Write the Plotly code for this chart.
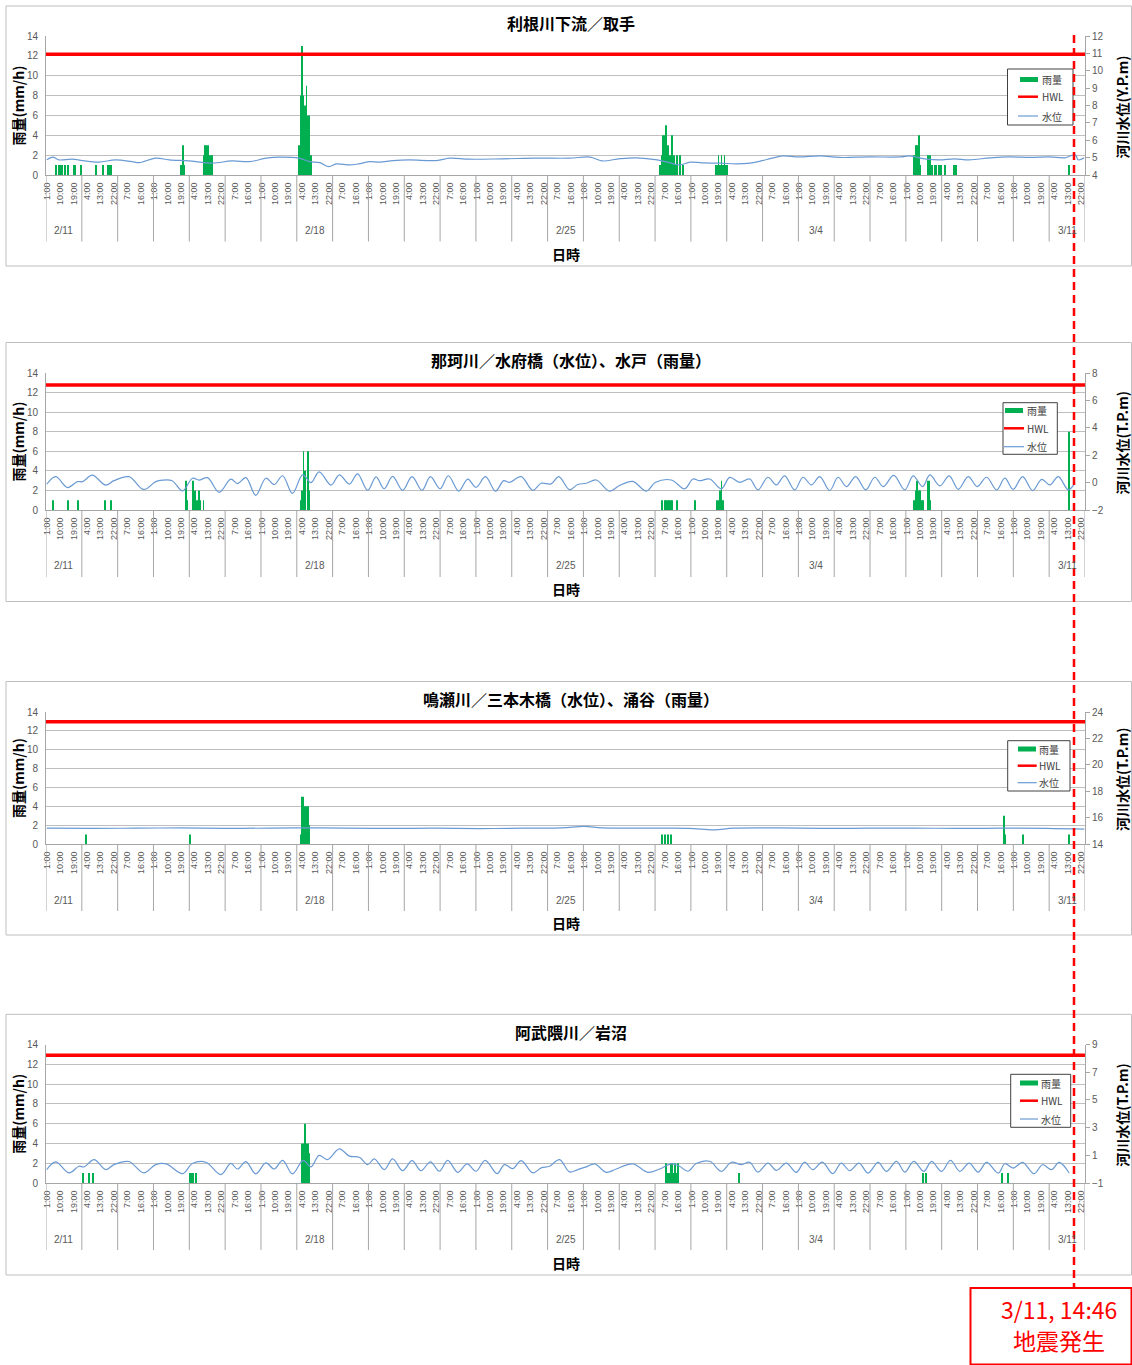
import plotly.graph_objects as go

W, H = 1132, 1365
def fx(p): return p / W
def fy(p): return 1 - p / H

X0, X1 = 46, 1085
FONT = "Noto Sans CJK JP"
TICKFONT = "Liberation Sans"

# ---------------- categories / tick labels ----------------
hour_tick_labels = ["1:00", "10:00", "19:00", "4:00", "13:00", "22:00", "7:00", "16:00"]
date_labels = ["2/11", "2/18", "2/25", "3/4", "3/11"]
date_day_index = [0, 7, 14, 21, 28]
n_days = 29
n_hours = 696          # hourly categories, 2/11 1:00 .. 3/12 0:00
tick_step = 9

# ---------------- panel texts ----------------
titles = ["利根川下流／取手",
          "那珂川／水府橋（水位）、水戸（雨量）",
          "鳴瀬川／三本木橋（水位）、涌谷（雨量）",
          "阿武隈川／岩沼"]
right_titles = ["河川水位(Y.P.m)", "河川水位(T.P.m)", "河川水位(T.P.m)", "河川水位(T.P.m)"]
right_ranges = [[4, 12], [-2, 8], [14, 24], [-1, 9]]
right_dticks = [1, 2, 2, 2]
hwl_values = [10.95, 7.13, 23.27, 8.23]

# ---------------- rainfall (hour index, mm/h) ----------------
rain1_t = [6, 8, 9, 10, 12, 14, 18, 19, 23, 33, 38, 41, 42, 43, 90, 91, 92, 105, 106, 107, 108, 109, 110, 111,
           169, 170, 171, 172, 173, 174, 175, 176, 177, 411, 412, 413, 414, 415, 416, 417, 418, 419, 420, 421, 422,
           424, 426, 448, 449, 450, 451, 452, 453, 454, 455, 456, 581, 582, 583, 584, 585, 590, 591, 592, 593, 595,
           596, 598, 599, 602, 608, 609, 685]
rain1_v = [1, 1, 1, 1, 1, 1, 1, 1, 1, 1, 1, 1, 1, 1, 1, 3, 1, 2, 3, 3, 3, 2, 2, 2,
           3, 8, 13, 8, 7, 9, 6, 6, 2, 1, 2, 4, 4, 5, 3, 2, 2, 4, 2, 1, 2,
           2, 1, 1, 1, 2, 1, 2, 1, 2, 1, 1, 2, 3, 3, 4, 1, 2, 2, 2, 1, 1,
           1, 1, 1, 1, 1, 1, 1]
rain2_t = [4, 14, 21, 39, 43, 93, 94, 98, 99, 100, 101, 102, 103, 105, 170, 171, 172, 173, 175, 176,
           412, 414, 415, 416, 417, 418, 419, 422, 434, 449, 450, 451, 452, 453,
           581, 582, 583, 584, 585, 586, 587, 590, 591, 592, 685]
rain2_v = [1, 1, 1, 1, 1, 3, 1, 3, 2, 1, 1, 2, 1, 1, 1, 2, 6, 4, 6, 2,
           1, 1, 1, 1, 1, 1, 1, 1, 1, 1, 1, 2, 3, 1,
           1, 2, 3, 2, 2, 1, 1, 3, 3, 1, 8]
rain3_t = [26, 96, 170, 171, 172, 173, 174, 175, 176, 412, 414, 416, 418, 641, 642, 654, 685]
rain3_v = [1, 1, 1, 5, 5, 4, 4, 4, 2, 1, 1, 1, 1, 3, 1, 1, 1]
rain4_t = [24, 28, 31, 96, 97, 98, 100, 171, 172, 173, 174, 175, 176,
           415, 416, 417, 418, 419, 420, 421, 422, 423, 464, 587, 589, 640, 644]
rain4_v = [1, 1, 1, 1, 1, 1, 1, 4, 4, 6, 4, 4, 3,
           2, 1, 1, 2, 2, 1, 2, 1, 2, 1, 1, 1, 1, 1]

# ---------------- water level (hour index, m) ----------------
level1_t = [0, 4, 8, 17, 24, 35, 46, 57, 62, 73, 82, 95, 111, 124, 136, 147, 156, 169, 176, 183, 189, 194, 203,
            209, 216, 223, 232, 243, 261, 270, 283, 305, 328, 350, 364, 372, 384, 395, 409, 417, 424, 431, 439,
            451, 462, 471, 478, 486, 493, 504, 518, 531, 551, 572, 578, 588, 598, 608, 618, 632, 645, 659, 672,
            682, 689, 691, 695]
level1_v = [4.87, 5.03, 4.87, 4.91, 4.83, 4.74, 4.87, 4.77, 4.71, 4.97, 4.87, 4.81, 4.68, 4.81, 4.77, 4.97, 5.03,
            4.97, 4.77, 4.71, 4.48, 4.64, 4.58, 4.64, 4.77, 4.74, 4.83, 4.87, 4.83, 4.97, 4.91, 4.93, 4.97, 4.97,
            5.03, 4.81, 4.94, 4.99, 4.87, 4.71, 4.58, 4.74, 4.70, 4.68, 4.64, 4.68, 4.8, 4.97, 5.1, 5.04, 5.1,
            5.01, 5.04, 5.04, 5.1, 4.93, 4.87, 4.93, 4.87, 4.99, 5.04, 5.01, 5.04, 4.99, 5.16, 4.87, 4.99]
level2_t = [0, 6, 14, 20.5, 24, 30.5, 39.5, 45, 55, 65, 73, 77.5, 84, 91, 97.6, 102, 107.7, 115.5, 123.3, 127.8,
            133.4, 140, 146.8, 152.4, 158, 164.6, 171.4, 177, 182.5, 190.4, 196, 202.7, 208.2, 215, 220.6, 226,
            231.7, 238.4, 244.7, 251.4, 257, 263.5, 269, 276, 282, 287.6, 293.9, 300.6, 306.1, 310, 317.8, 325.6,
            331.2, 337.9, 343, 350.2, 355.7, 361.4, 368.1, 377, 383.7, 392.6, 401.6, 407.8, 418.4, 427.3, 432.9,
            437.3, 444.1, 451.9, 457.5, 464.2, 470.9, 476.4, 483.1, 488.7, 494.3, 501, 506.6, 512.2, 517.8, 524.5,
            530.1, 535.7, 541.9, 548.6, 554.7, 560.3, 567.4, 574.8, 580.4, 586.7, 591.6, 598.3, 604.5, 610.6,
            617.3, 623.3, 629.6, 636.3, 641.8, 647.4, 653.7, 660.4, 666.5, 672, 677.6, 684.3, 688.8]
level2_v = [-0.12, 0.43, -0.36, 0.07, 0.07, 0.54, -0.18, 0.14, 0.43, -0.5, 0.07, 0.18, 0.14, -0.61, 0.32, 0.18,
            0.36, -0.71, 0.25, -0.07, 0.36, -0.93, 0.32, -0.14, 0.5, -0.79, 0.57, 0.0, 0.79, -0.18, 0.57, -0.11,
            0.64, -0.57, 0.42, -0.45, 0.45, -0.57, 0.43, -0.57, 0.43, -0.45, 0.5, -0.62, 0.26, -0.34, 0.43, -0.62,
            0.14, 0.02, 0.43, -0.57, -0.05, -0.09, 0.43, -0.52, -0.14, -0.05, 0.19, -0.62, -0.21, 0.09, -0.62,
            0.02, 0.19, -0.45, 0.26, 0.14, 0.26, -0.45, 0.38, 0.02, 0.26, -0.53, 0.39, -0.17, 0.49, -0.53, 0.39,
            -0.17, 0.44, -0.58, 0.39, -0.29, 0.44, -0.53, 0.39, -0.29, 0.53, -0.53, 0.49, -0.29, 0.56, -0.24,
            0.49, -0.49, 0.44, -0.29, 0.39, -0.53, 0.32, -0.49, 0.44, -0.58, 0.24, -0.17, 0.44, -0.53, 0.0]
level3_t = [0, 30, 60, 90, 120, 150, 175, 200, 230, 260, 290, 320, 345, 360, 372, 400, 430, 447, 460, 490, 520,
            550, 580, 610, 640, 670, 695]
level3_v = [15.2, 15.18, 15.2, 15.22, 15.19, 15.2, 15.22, 15.2, 15.18, 15.2, 15.17, 15.2, 15.22, 15.33, 15.22,
            15.2, 15.19, 15.07, 15.2, 15.22, 15.18, 15.2, 15.21, 15.18, 15.2, 15.19, 15.12]
level4_t = [0, 6, 15, 21.6, 25, 31.7, 39.5, 45, 55, 65, 73, 80, 91, 97.6, 106.6, 116.6, 123.3, 127.8, 133.4, 140,
            146.8, 152.4, 158, 164.6, 171.8, 177, 182.5, 188, 196, 202.7, 209.4, 215, 219.4, 226.1, 231.7, 238.4,
            244.7, 250.7, 257, 263, 268.6, 275.3, 281.6, 287.6, 293.7, 301.7, 306.6, 312.2, 317.8, 325.6, 331.2,
            336.8, 343.5, 350.2, 355.7, 361.4, 367, 374.8, 381.5, 392.6, 402.7, 410.5, 418.4, 423.9, 429.5, 435.1,
            444.1, 451.9, 458.6, 465.3, 470.9, 476.4, 483.1, 488.7, 495.4, 502.1, 507.6, 513.2, 519.5, 526.6,
            532.2, 537.9, 544.1, 550.2, 556.9, 562.5, 569.2, 574.8, 580.8, 587.5, 592.7, 599.4, 605.4, 611.7,
            617.9, 623.9, 629.6, 637.4, 641.8, 647.4, 653.7, 661.3, 667.1, 673.1, 678.2, 684.9]
level4_v = [-0.03, 0.53, -0.27, 0.21, 0.16, 0.69, -0.03, 0.33, 0.55, -0.27, 0.33, 0.38, -0.32, 0.41, 0.5, -0.39,
            0.41, 0.01, 0.55, -0.34, 0.45, 0.01, 0.64, -0.34, 0.64, 0.16, 0.99, 0.69, 1.47, 0.94, 0.86, 0.33, 0.74,
            -0.03, 0.74, -0.11, 0.62, -0.11, 0.53, -0.15, 0.64, -0.23, 0.38, -0.15, 0.64, -0.32, 0.33, 0.04, 0.62,
            -0.27, 0.09, 0.21, 0.69, -0.2, -0.03, 0.16, 0.38, -0.23, 0.01, 0.38, -0.23, 0.01, 0.38, 0.21, -0.15,
            0.41, 0.57, -0.15, 0.5, 0.33, 0.5, -0.21, 0.44, -0.09, 0.44, -0.23, 0.51, -0.04, 0.51, -0.33, 0.44,
            -0.11, 0.44, -0.28, 0.49, -0.16, 0.56, -0.21, 0.56, -0.16, 0.56, -0.16, 0.63, -0.16, 0.44, -0.21,
            0.49, -0.28, 0.39, 0.08, 0.49, -0.33, 0.32, -0.04, 0.49, -0.28]

rain = [(rain1_t, rain1_v), (rain2_t, rain2_v), (rain3_t, rain3_v), (rain4_t, rain4_v)]
level = [(level1_t, level1_v), (level2_t, level2_v), (level3_t, level3_v), (level4_t, level4_v)]
for a, b in rain + level:
    assert len(a) == len(b), (len(a), len(b))

quake_label = ["3/11, 14:46", "地震発生"]

# ---------------- layout geometry (pixels) ----------------
geo = [
    dict(top=36, bot=175, box=(6, 266), title_y=23, date_y=230, sep_bot=241.5, xl_y=254,
         leg=(1007.5, 69, 1073, 125), rows=(79.5, 96.7, 116), gx=(1020, 1038), lx=(1018, 1038), tx=1040),
    dict(top=373, bot=510, box=(342.5, 601.5), title_y=360, date_y=565, sep_bot=577, xl_y=589,
         leg=(1003, 402.7, 1057.3, 454.3), rows=(410.5, 428.3, 446.7), gx=(1005, 1023), lx=(1004, 1024), tx=1025),
    dict(top=712, bot=844, box=(681.5, 935), title_y=699, date_y=900.5, sep_bot=911, xl_y=923,
         leg=(1007.7, 740.7, 1070, 791), rows=(749, 765.7, 782.7), gx=(1018, 1036), lx=(1017.7, 1036.7), tx=1037),
    dict(top=1044.5, bot=1183, box=(1014.3, 1275), title_y=1032, date_y=1239.5, sep_bot=1250, xl_y=1263,
         leg=(1010.7, 1074.3, 1070.7, 1127.3), rows=(1083, 1100.7, 1119), gx=(1020, 1038), lx=(1020, 1038), tx=1039),
]

GREEN = "#00b050"
BLUE = "#6a9ad3"
RED = "#ff0000"
GRID = "#bfbfbf"
AXIS = "#a6a6a6"
TXT = "#595959"

tickvals = list(range(0, n_hours, tick_step))
ticktext = [hour_tick_labels[i % len(hour_tick_labels)] for i in range(len(tickvals))]

fig = go.Figure()
layout = {}
shapes = []
annotations = []


def note(text, x, y, size, color="#000000", family=FONT, xref="paper", angle=0, xanchor="center"):
    annotations.append(dict(text=text, xref=xref, yref="paper", x=x, y=y, xanchor=xanchor,
                            yanchor="middle", textangle=angle, showarrow=False,
                            font=dict(family=family, size=size, color=color)))


for k in range(4):
    g = geo[k]
    xs = "x" if k == 0 else f"x{k + 1}"
    yl = "y" if k == 0 else f"y{2 * k + 1}"
    yr = f"y{2 * k + 2}"
    xname = "xaxis" if k == 0 else f"xaxis{k + 1}"
    ylname = "yaxis" if k == 0 else f"yaxis{2 * k + 1}"
    yrname = f"yaxis{2 * k + 2}"

    rt, rv = rain[k]
    lt, lv = level[k]
    fig.add_trace(go.Bar(x=rt, y=rv, width=0.65, marker=dict(color=GREEN, line=dict(width=0)),
                         xaxis=xs, yaxis=yl, showlegend=False, hoverinfo="skip"))
    fig.add_trace(go.Scatter(x=[-0.5, n_hours - 0.5], y=[hwl_values[k]] * 2, mode="lines",
                             line=dict(color=RED, width=3.5), xaxis=xs, yaxis=yr,
                             showlegend=False, hoverinfo="skip"))
    fig.add_trace(go.Scatter(x=lt, y=lv, mode="lines",
                             line=dict(color=BLUE, width=1.2, shape="spline", smoothing=1.0),
                             xaxis=xs, yaxis=yr, showlegend=False, hoverinfo="skip"))

    layout[xname] = dict(domain=[fx(X0), fx(X1)], range=[-0.5, n_hours - 0.5], anchor=yl,
                         type="linear", tickmode="array", tickvals=tickvals, ticktext=ticktext, tickangle=-90,
                         tickfont=dict(family=TICKFONT, size=9, color=TXT), showline=True,
                         linecolor=AXIS, linewidth=1, showgrid=False, zeroline=False, ticks="",
                         ticklabelstandoff=3, automargin=False, fixedrange=True)
    layout[ylname] = dict(domain=[fy(g["bot"]), fy(g["top"])], range=[0, 14], tickmode="linear",
                          tick0=0, dtick=2, anchor=xs,
                          tickfont=dict(family=TICKFONT, size=10, color=TXT), showline=True,
                          linecolor=AXIS, linewidth=1, showgrid=True, gridcolor=GRID, gridwidth=1,
                          zeroline=False, ticks="", ticklabelstandoff=5, automargin=False, fixedrange=True,
                          ticklabeloverflow="allow")
    layout[yrname] = dict(domain=[fy(g["bot"]), fy(g["top"])], range=right_ranges[k], tickmode="linear",
                          tick0=right_ranges[k][0], dtick=right_dticks[k],
                          overlaying=yl, side="right", anchor=xs,
                          tickfont=dict(family=TICKFONT, size=10, color=TXT), showline=True,
                          linecolor=AXIS, linewidth=1, showgrid=False, zeroline=False, ticks="outside",
                          ticklen=4, tickcolor=AXIS, automargin=False, fixedrange=True,
                          ticklabeloverflow="allow")

    # panel frame
    shapes.append(dict(type="rect", xref="paper", yref="paper", x0=fx(6), x1=fx(1131.5),
                       y0=fy(g["box"][1]), y1=fy(g["box"][0]), line=dict(color=GRID, width=1),
                       fillcolor="rgba(0,0,0,0)", layer="below"))
    # day separators of the two-level category axis
    for d in range(n_days + 1):
        shapes.append(dict(type="line", xref=xs, yref="paper", x0=24 * d - 0.5, x1=24 * d - 0.5,
                           y0=fy(g["bot"]), y1=fy(g["sep_bot"]), line=dict(color=AXIS, width=1)))
    for lab, d in zip(date_labels, date_day_index):
        note(lab, 24 * d + 11.5, fy(g["date_y"]), 10, TXT, TICKFONT, xref=xs)
    # titles
    note(f"<b>{titles[k]}</b>", fx(571), fy(g["title_y"]), 16)
    note("<b>日時</b>", fx(566), fy(g["xl_y"]), 14)
    mid = (g["top"] + g["bot"]) / 2
    note("<b>雨量(mm/h)</b>", fx(18), fy(mid), 14, angle=-90)
    note(f"<b>{right_titles[k]}</b>", fx(1122), fy(mid + 2), 14, angle=-90)
    # legend
    lx0, ly0, lx1, ly1 = g["leg"]
    shapes.append(dict(type="rect", xref="paper", yref="paper", x0=fx(lx0), x1=fx(lx1), y0=fy(ly1), y1=fy(ly0),
                       line=dict(color="#404040", width=1), fillcolor="white"))
    r0, r1, r2 = g["rows"]
    shapes.append(dict(type="rect", xref="paper", yref="paper", x0=fx(g["gx"][0]), x1=fx(g["gx"][1]),
                       y0=fy(r0 + 2.5), y1=fy(r0 - 2.5), line=dict(width=0), fillcolor=GREEN))
    shapes.append(dict(type="line", xref="paper", yref="paper", x0=fx(g["lx"][0]), x1=fx(g["lx"][1]),
                       y0=fy(r1), y1=fy(r1), line=dict(color=RED, width=2.5)))
    shapes.append(dict(type="line", xref="paper", yref="paper", x0=fx(g["lx"][0]), x1=fx(g["lx"][1]),
                       y0=fy(r2), y1=fy(r2), line=dict(color=BLUE, width=1.2)))
    for txt, ry in zip(["雨量", "HWL", "水位"], [r0, r1, r2]):
        note(txt, fx(g["tx"]), fy(ry), 10, "#404040", xanchor="left")

# earthquake marker
shapes.append(dict(type="rect", xref="paper", yref="paper", x0=fx(970.5), x1=fx(1131.5), y0=fy(1364.5),
                   y1=fy(1288), line=dict(color=RED, width=2), fillcolor="white"))
shapes.append(dict(type="line", xref="paper", yref="paper", x0=fx(1074), x1=fx(1074), y0=fy(35), y1=fy(1288),
                   line=dict(color=RED, width=2.5, dash="8px,5px")))
note(quake_label[0], fx(1059), fy(1309), 23, RED)
note(quake_label[1], fx(1059), fy(1340), 23, RED)

fig.update_layout(width=W, height=H, margin=dict(l=0, r=0, t=0, b=0), template="none",
                  paper_bgcolor="white", plot_bgcolor="white", showlegend=False, hovermode=False,
                  barmode="overlay", shapes=shapes, annotations=annotations, **layout)
fig.write_html("out.html")
